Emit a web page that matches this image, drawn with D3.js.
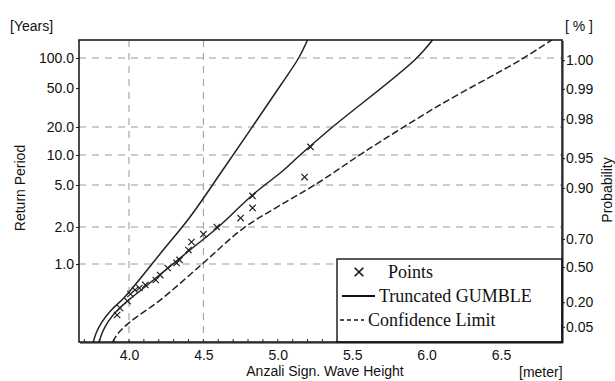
<!DOCTYPE html>
<html>
<head>
<meta charset="utf-8">
<script src="https://cdn.jsdelivr.net/npm/d3@7"></script>
<style>
body { margin: 0; background: #fff; }
svg { display: block; }
.axis text { font-family: "Liberation Sans", Arial, sans-serif; font-size: 14px; fill: #111; }
.axis line { stroke: #222; }
.title { font-family: "Liberation Sans", Arial, sans-serif; font-size: 14px; fill: #111; }
.legend text { font-family: "Liberation Serif", "Times New Roman", serif; font-size: 18px; fill: #111; }
</style>
</head>
<body>
<svg id="chart" width="615" height="381"></svg>
<script>

// observed points (wave height [m], return period [years])
var pointH = [3.92, 3.94, 3.99, 4.01, 4.04, 4.07, 4.11, 4.18, 4.21, 4.26, 4.32, 4.34, 4.40, 4.42, 4.50, 4.59, 4.75, 4.83, 4.83, 5.18, 5.22];
var pointT = [0.314, 0.368, 0.431, 0.506, 0.554, 0.580, 0.621, 0.695, 0.778, 0.913, 1.02, 1.08, 1.30, 1.51, 1.75, 2.0, 2.43, 3.03, 3.94, 6.0, 12.2];

// truncated gumble fit
var gumbelH = [3.80, 3.82, 3.86, 3.93, 4.14, 4.41, 4.60, 4.83, 5.04, 5.15, 5.36, 5.92, 6.04];
var gumbelT = [0.17, 0.21, 0.27, 0.36, 0.649, 1.30, 2.0, 4.02, 7.07, 10, 19.5, 95.5, 150];

// confidence limits
var upperH = [3.76, 3.78, 3.82, 3.88, 3.97, 4.23, 4.41, 4.63, 5.02, 5.14, 5.20];
var upperT = [0.17, 0.21, 0.27, 0.35, 0.47, 1.30, 2.49, 7.07, 53.6, 100, 150];
var lowerH = [3.89, 3.93, 4.01, 4.21, 4.50, 4.77, 5.02, 5.28, 5.57, 6.09, 6.63, 6.84];
var lowerT = [0.17, 0.21, 0.27, 0.441, 1.02, 1.96, 3.24, 5.36, 10.5, 33.6, 95.5, 150];

// axes
var xTicks = [4.0, 4.5, 5.0, 5.5, 6.0, 6.5];
var xGrid = [4.0, 4.5];
var periodTicks = [100, 50, 20, 10, 5, 2, 1];
var periodGrid = [100, 20, 10, 5, 2, 1];
var probLabels = ["1.00", "0.99", "0.98", "0.95", "0.90", "0.70", "0.50", "0.20", "0.05"];
var probT = [95, 49, 24, 9.3, 4.7, 1.6, 0.93, 0.42, 0.24];
var legendLabels = ["Points", "Truncated GUMBLE", "Confidence Limit"];

(function(){

	var svg = d3.select("#chart");
	var pLeft = 79, pTop = 40, pRight = 562, pBottom = 342;

	var x = d3.scaleLinear().domain([3.664, 6.91]).range([pLeft, pRight]);
	// probability paper: piecewise log scale calibrated on the printed ticks
	var y = d3.scaleLog()
		.domain([0.17, 1, 2, 5, 10, 20, 50, 100, 150])
		.range([pBottom, 264, 227, 185, 155, 127, 88, 58, pTop]);

	svg.append("rect").attr("width", 615).attr("height", 381).attr("fill", "#fff");

	svg.append("clipPath").attr("id", "clip")
		.append("rect").attr("x", pLeft).attr("y", pTop)
		.attr("width", pRight - pLeft).attr("height", pBottom - pTop);

	// grid
	var grid = svg.append("g").attr("stroke", "#999").attr("stroke-dasharray", "7,6").attr("stroke-width", 1);
	grid.selectAll("line.h").data(periodGrid).enter().append("line").attr("class", "h")
		.attr("x1", pLeft).attr("x2", pRight)
		.attr("y1", function(d){ return y(d); }).attr("y2", function(d){ return y(d); });
	grid.selectAll("line.v").data(xGrid).enter().append("line").attr("class", "v")
		.attr("y1", pTop).attr("y2", pBottom)
		.attr("x1", function(d){ return x(d); }).attr("x2", function(d){ return x(d); });

	// axes
	svg.append("g").attr("class", "axis")
		.attr("transform", "translate(0," + pBottom + ")")
		.call(d3.axisBottom(x).tickValues(xTicks).tickFormat(d3.format(".1f")).tickSize(0).tickPadding(8))
		.select(".domain").remove();

	// minor ticks along x axis
	svg.append("g").selectAll("line")
		.data(d3.range(37, 70).map(function(i){ return i / 10; }))
		.enter().append("line")
		.attr("x1", function(d){ return x(d); }).attr("x2", function(d){ return x(d); })
		.attr("y1", pBottom).attr("y2", pBottom - 3)
		.attr("stroke", "#333");

	svg.append("g").attr("class", "axis")
		.attr("transform", "translate(" + pLeft + ",0)")
		.call(d3.axisLeft(y).tickValues(periodTicks).tickFormat(d3.format(".1f")).tickSize(3).tickPadding(2))
		.select(".domain").remove();

	svg.append("g").attr("class", "axis")
		.attr("transform", "translate(" + pRight + ",0)")
		.call(d3.axisRight(y).tickValues(probT).tickFormat(function(d, i){ return probLabels[i]; }).tickSize(3).tickPadding(1))
		.select(".domain").remove();

	// curves
	var plot = svg.append("g").attr("clip-path", "url(#clip)");
	function curve(H, T) {
		return d3.line()
			.x(function(d, i){ return x(H[i]); })
			.y(function(d, i){ return y(T[i]); })
			.curve(d3.curveCatmullRom.alpha(0.5))(H);
	}
	plot.append("path").attr("d", curve(upperH, upperT))
		.attr("fill", "none").attr("stroke", "#222").attr("stroke-width", 1.5);
	plot.append("path").attr("d", curve(gumbelH, gumbelT))
		.attr("fill", "none").attr("stroke", "#222").attr("stroke-width", 1.5);
	plot.append("path").attr("d", curve(lowerH, lowerT))
		.attr("fill", "none").attr("stroke", "#222").attr("stroke-width", 1.5)
		.attr("stroke-dasharray", "7,3");

	var cross = d3.symbol().type(d3.symbolX).size(28);
	plot.selectAll("path.pt").data(pointH).enter().append("path")
		.attr("class", "pt")
		.attr("d", cross)
		.attr("transform", function(d, i){ return "translate(" + x(d) + "," + y(pointT[i]) + ")"; })
		.attr("fill", "none").attr("stroke", "#222").attr("stroke-width", 1.2);

	// legend
	var lg = svg.append("g").attr("class", "legend");
	lg.append("rect").attr("x", 337).attr("y", 259).attr("width", pRight - 337).attr("height", pBottom - 259)
		.attr("fill", "#fff").attr("stroke", "#222").attr("stroke-width", 1.5);
	lg.append("path").attr("d", d3.symbol().type(d3.symbolX).size(50))
		.attr("transform", "translate(359,272)")
		.attr("fill", "none").attr("stroke", "#111").attr("stroke-width", 1.6);
	lg.append("line").attr("x1", 342).attr("x2", 375).attr("y1", 296).attr("y2", 296)
		.attr("stroke", "#111").attr("stroke-width", 2);
	lg.append("line").attr("x1", 340).attr("x2", 364).attr("y1", 320).attr("y2", 320)
		.attr("stroke", "#111").attr("stroke-width", 1.6).attr("stroke-dasharray", "4,3");
	lg.selectAll("text").data(legendLabels).enter().append("text")
		.attr("x", function(d, i){ return [388, 379, 368][i]; })
		.attr("y", function(d, i){ return 278 + i * 24; })
		.text(function(d){ return d; });

	// frame
	svg.append("rect").attr("x", pLeft).attr("y", pTop).attr("width", pRight - pLeft).attr("height", pBottom - pTop)
		.attr("fill", "none").attr("stroke", "#111").attr("stroke-width", 1.5);
	svg.append("path").attr("d", "M" + (pLeft + 1) + "," + (pBottom + 1) + "H" + (pRight + 1) + "V" + (pTop + 1))
		.attr("fill", "none").attr("stroke", "#111").attr("stroke-width", 1);

	// titles
	svg.append("text").attr("class", "title").attr("x", 10).attr("y", 31).text("[Years]");
	svg.append("text").attr("class", "title").attr("x", 565).attr("y", 31).text("[ % ]");
	svg.append("text").attr("class", "title").attr("text-anchor", "middle")
		.attr("transform", "translate(25,188) rotate(-90)").text("Return Period");
	svg.append("text").attr("class", "title").attr("text-anchor", "middle")
		.attr("transform", "translate(612,190) rotate(-90)").text("Probability");
	svg.append("text").attr("class", "title").attr("text-anchor", "middle")
		.attr("x", 325).attr("y", 376).text("Anzali Sign. Wave Height");
	svg.append("text").attr("class", "title").attr("x", 519).attr("y", 377).text("[meter]");

})();

</script>
</body>
</html>
